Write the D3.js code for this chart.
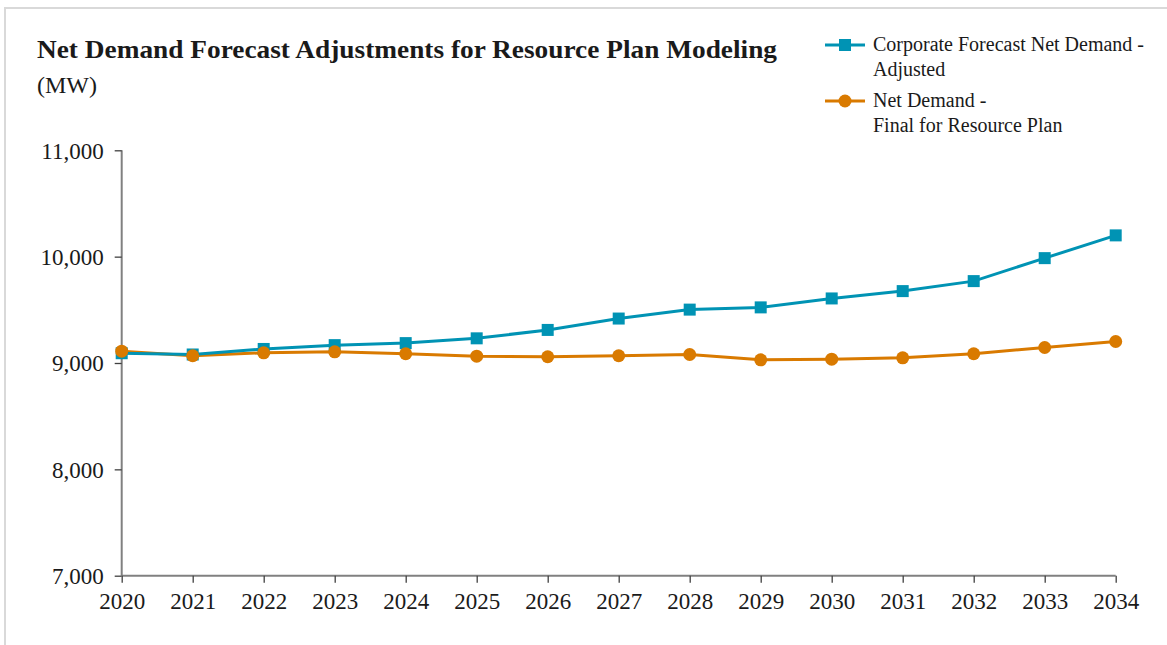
<!DOCTYPE html>
<html>
<head>
<meta charset="utf-8">
<script src="https://cdn.jsdelivr.net/npm/d3@7"></script>
<style>
  html, body { margin: 0; padding: 0; background: #fff; }
  svg { display: block; }
  text { font-family: "Liberation Serif", "DejaVu Serif", serif; fill: #1a1a1a; }
</style>
</head>
<body>
<svg id="chart" width="1167" height="645"></svg>
<script>
const years = [2020, 2021, 2022, 2023, 2024, 2025, 2026, 2027, 2028, 2029, 2030, 2031, 2032, 2033, 2034];
const corporateAdjusted = [9092, 9080, 9132, 9168, 9187, 9232, 9311, 9418, 9502, 9523, 9607, 9676, 9770, 9986, 10200];
const finalResourcePlan = [9111, 9068, 9096, 9105, 9087, 9064, 9059, 9068, 9080, 9030, 9036, 9049, 9087, 9146, 9202];
const yTicks = [7000, 8000, 9000, 10000, 11000];
const seriesNames = [["Corporate Forecast Net Demand -", "Adjusted"], ["Net Demand -", "Final for Resource Plan"]];
const seriesColors = ["#0093B4", "#D97A00"];

const svg = d3.select("#chart");

// frame
svg.append("rect").attr("x", 5).attr("y", 8).attr("width", 1200).attr("height", 700)
  .attr("fill", "none").attr("stroke", "#d9d9d9").attr("stroke-width", 2);

const x = d3.scalePoint().domain(years).range([121.7, 1115.7]);
const y = d3.scaleLinear().domain([7000, 11000]).range([575.7, 150.3]);

// y axis
const yAxis = svg.append("g").attr("transform", "translate(121.7,0)")
  .call(d3.axisLeft(y).tickValues(yTicks).tickSize(7).tickPadding(11).tickFormat(d3.format(",")));
yAxis.select(".domain").attr("stroke", "#808080").attr("stroke-width", 2).attr("d", `M0,${y(11000)}V${y(7000)}`);
yAxis.selectAll(".tick line").attr("stroke", "#404040").attr("stroke-width", 1.3);
yAxis.selectAll(".tick text").attr("font-size", 23).attr("font-family", "Liberation Serif").attr("fill", "#1a1a1a").attr("dy", "0.34em");

// x axis
const xAxis = svg.append("g").attr("transform", `translate(0,${y(7000)})`)
  .call(d3.axisBottom(x).tickSize(7).tickPadding(6));
xAxis.select(".domain").attr("stroke", "#808080").attr("stroke-width", 2).attr("d", `M${x(2020)},0H${x(2034)}`);
xAxis.selectAll(".tick line").attr("stroke", "#404040").attr("stroke-width", 1.3);
xAxis.selectAll(".tick text").attr("font-size", 23).attr("font-family", "Liberation Serif").attr("fill", "#1a1a1a").attr("dy", "0.9em");

const line = d3.line().x((d, i) => x(years[i])).y(d => y(d));

// orange series
svg.append("path").datum(finalResourcePlan).attr("d", line).attr("fill", "none")
  .attr("stroke", seriesColors[1]).attr("stroke-width", 3);
// blue series
svg.append("path").datum(corporateAdjusted).attr("d", line).attr("fill", "none")
  .attr("stroke", seriesColors[0]).attr("stroke-width", 3);

svg.append("g").selectAll("rect").data(corporateAdjusted).join("rect")
  .attr("x", (d, i) => x(years[i]) - 6).attr("y", d => y(d) - 6)
  .attr("width", 12).attr("height", 12).attr("fill", seriesColors[0]);

svg.append("g").selectAll("circle").data(finalResourcePlan).join("circle")
  .attr("cx", (d, i) => x(years[i])).attr("cy", d => y(d)).attr("r", 6.5)
  .attr("fill", seriesColors[1]);

// title
svg.append("text").attr("x", 37).attr("y", 58).attr("font-size", 25).attr("font-weight", "bold")
  .attr("textLength", 740).attr("lengthAdjust", "spacingAndGlyphs")
  .text("Net Demand Forecast Adjustments for Resource Plan Modeling");
svg.append("text").attr("x", 37).attr("y", 93).attr("font-size", 24).text("(MW)");

// legend
const legY = [45, 101];
seriesNames.forEach((lines, k) => {
  const g = svg.append("g");
  g.append("line").attr("x1", 825).attr("x2", 865).attr("y1", legY[k]).attr("y2", legY[k])
    .attr("stroke", seriesColors[k]).attr("stroke-width", 3);
  if (k === 0) {
    g.append("rect").attr("x", 839).attr("y", legY[k] - 6).attr("width", 12).attr("height", 12).attr("fill", seriesColors[k]);
  } else {
    g.append("circle").attr("cx", 845).attr("cy", legY[k]).attr("r", 6.5).attr("fill", seriesColors[k]);
  }
  lines.forEach((t, j) => {
    g.append("text").attr("x", 873).attr("y", legY[k] + 6 + j * 25).attr("font-size", 20).text(t);
  });
});
</script>
</body>
</html>
